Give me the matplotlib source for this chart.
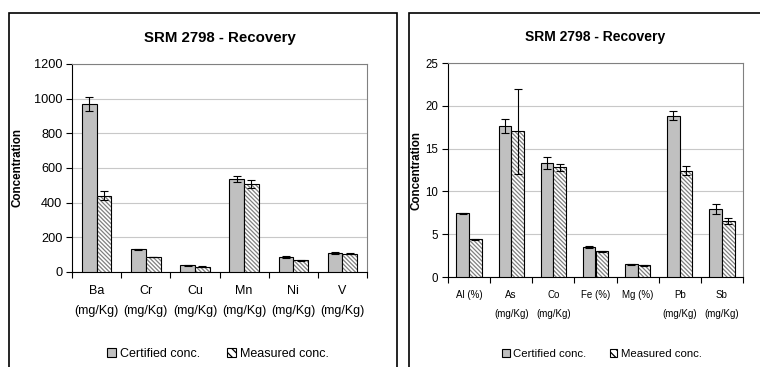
import numpy as np
import matplotlib
matplotlib.use("Agg")
import matplotlib.pyplot as plt
from matplotlib.patches import Rectangle, Patch

plt.rcParams['font.family'] = ['Liberation Sans', 'DejaVu Sans']
plt.rcParams['hatch.linewidth'] = 0.9

# metals, first panel (mg/Kg)
elem_a = ['Ba\n(mg/Kg)', 'Cr\n(mg/Kg)', 'Cu\n(mg/Kg)', 'Mn\n(mg/Kg)', 'Ni\n(mg/Kg)', 'V\n(mg/Kg)']
cert_a = [968, 130, 38, 536, 86, 110]
cert_a_err = [40, 4, 3, 19, 5, 6]
meas_a = [441, 86, 31, 507, 69, 104]
meas_a_err = [27, 2, 2, 25, 3, 3]

# second panel
elem_b = ['Al (%)', 'As\n(mg/Kg)', 'Co\n(mg/Kg)', 'Fe (%)', 'Mg (%)', 'Pb\n(mg/Kg)', 'Sb\n(mg/Kg)']
cert_b = [7.43, 17.65, 13.3, 3.54, 1.48, 18.86, 7.9]
cert_b_err = [0.08, 0.85, 0.7, 0.12, 0.03, 0.55, 0.58]
meas_b = [4.39, 17.0, 12.8, 3.0, 1.36, 12.44, 6.5]
meas_b_err = [0.05, 5.0, 0.4, 0.05, 0.03, 0.5, 0.35]

W, H = 760, 367
fig = plt.figure(figsize=(W / 100, H / 100), dpi=100)
HATCH = '\\' * 8

# panel frames (run off the bottom of the figure)
fig.patches.append(Rectangle((9 / W, -0.05), (397 - 9) / W, 1 - 13 / H + 0.05,
                             transform=fig.transFigure, fill=False, ec='black', lw=1.2))
fig.patches.append(Rectangle((409 / W, -0.05), 0.5, 1 - 13 / H + 0.05,
                             transform=fig.transFigure, fill=False, ec='black', lw=1.2))


def panel(rect, labels, cert, cert_err, meas, meas_err, ymax, ystep,
          tick_fs, ytick_fs, lsp, title_fs, leg_fs, leg_x, colsp):
    l, t, r, b = rect
    ax = fig.add_axes([l / W, 1 - b / H, (r - l) / W, (b - t) / H])
    x = np.arange(len(labels))
    w = 0.3
    ax.bar(x - w / 2, cert, w, color='#c0c0c0', edgecolor='black', lw=0.8, zorder=3)
    ax.bar(x + w / 2, meas, w, color='white', edgecolor='#808080', hatch=HATCH, lw=0, zorder=3)
    ax.bar(x + w / 2, meas, w, fill=False, edgecolor='black', lw=0.8, zorder=4)
    ax.errorbar(x - w / 2, cert, yerr=cert_err, fmt='none', ecolor='black',
                elinewidth=0.8, capsize=3, capthick=0.8, zorder=5)
    ax.errorbar(x + w / 2, meas, yerr=meas_err, fmt='none', ecolor='black',
                elinewidth=0.8, capsize=3, capthick=0.8, zorder=5)

    ax.set_xlim(-0.5, len(labels) - 0.5)
    ax.set_ylim(0, ymax)
    ax.set_yticks(np.arange(0, ymax + ystep / 2, ystep))
    ax.yaxis.grid(True, color='#c8c8c8', lw=0.8, zorder=0)
    ax.set_xticks(x)
    ax.set_xticklabels(labels, fontsize=tick_fs, linespacing=lsp, va='top')
    ax.set_xticks(np.arange(-0.5, len(labels)), minor=True)
    ax.tick_params(axis='x', which='major', length=0, pad=9)
    ax.tick_params(axis='x', which='minor', length=4, width=0.8)
    ax.tick_params(axis='y', length=4, width=0.8, labelsize=ytick_fs, pad=3)
    for s in ['top', 'right']:
        ax.spines[s].set_color('#808080')
        ax.spines[s].set_linewidth(0.8)
    for s in ['left', 'bottom']:
        ax.spines[s].set_color('black')
        ax.spines[s].set_linewidth(0.8)
    ax.set_ylabel('Concentration', fontsize=8.4, fontweight='bold')
    ax.set_title('SRM 2798 - Recovery', fontsize=title_fs, fontweight='bold', pad=16)

    handles = [Patch(facecolor='#c0c0c0', edgecolor='black', lw=0.8, label='Certified conc.'),
               Patch(facecolor='white', edgecolor='black', hatch='\\\\\\\\', lw=0.8, label='Measured conc.')]
    ax.legend(handles=handles, loc='center', bbox_to_anchor=(leg_x / W, 1 - 354 / H),
              bbox_transform=fig.transFigure, ncol=2, frameon=False, fontsize=leg_fs,
              handlelength=0.7, handleheight=0.7, handletextpad=0.3, columnspacing=colsp)
    return ax


ax1 = panel((72, 64, 367, 272), elem_a, cert_a, cert_a_err, meas_a, meas_a_err,
            1200, 200, 9, 9.2, 1.9, 10.8, 9, 218, 2.2)
ax1.yaxis.set_label_coords(-0.165, 0.5)
ax2 = panel((448, 63, 743, 277), elem_b, cert_b, cert_b_err, meas_b, meas_b_err,
            25, 5, 7, 8.3, 2.2, 10, 8.2, 602, 2.0)
ax2.yaxis.set_label_coords(-0.085, 0.5)

fig.savefig('out.png', dpi=100)
